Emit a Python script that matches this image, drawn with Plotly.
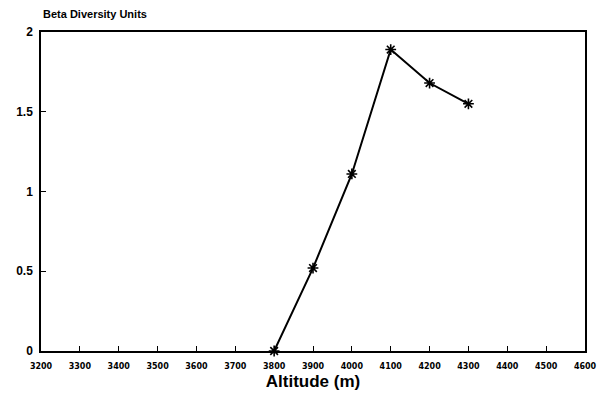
import plotly.graph_objects as go

altitude = [3800, 3900, 4000, 4100, 4200, 4300]
beta_diversity = [0.0, 0.52, 1.11, 1.89, 1.68, 1.55]
x_ticks = list(range(3200, 4601, 100))
y_ticks = [0, 0.5, 1, 1.5, 2]
y_tick_labels = ["0", "0.5", "1", "1.5", "2"]

fig = go.Figure()
fig.add_trace(go.Scatter(
    x=altitude, y=beta_diversity, mode="lines+markers",
    line=dict(color="black", width=2),
    marker=dict(symbol="asterisk-open", size=9, color="black",
                line=dict(color="black", width=1.6)),
    showlegend=False, cliponaxis=False,
))

fig.update_layout(
    width=606, height=400,
    margin=dict(l=41, r=21, t=32, b=49),
    paper_bgcolor="white", plot_bgcolor="white",
    font=dict(family="Liberation Sans, Arial, sans-serif", color="black"),
    xaxis=dict(
        range=[3200, 4600], tickvals=x_ticks, ticktext=[str(v) for v in x_ticks],
        ticks="inside", ticklen=5, tickwidth=1.2, tickcolor="black",
        showline=True, linecolor="black", linewidth=1.5, mirror=True,
        showgrid=False, zeroline=False, automargin=False,
        ticklabelstandoff=7,
        tickfont=dict(family="DejaVu Sans, sans-serif", size=8, weight="bold"),
        title=dict(text="Altitude (m)", font=dict(size=17, weight="bold"), standoff=5),
    ),
    yaxis=dict(
        range=[0, 2], tickvals=y_ticks, ticktext=y_tick_labels,
        ticks="inside", ticklen=5, tickwidth=1.2, tickcolor="black",
        showline=True, linecolor="black", linewidth=1.5, mirror=True,
        showgrid=False, zeroline=False, automargin=False,
        ticklabelstandoff=4,
        tickfont=dict(size=12, weight="bold"),
    ),
    annotations=[dict(
        text="Beta Diversity Units", xref="paper", yref="paper",
        x=0, y=1, xanchor="left", yanchor="bottom", yshift=10, showarrow=False,
        font=dict(size=11, weight="bold"),
    )],
)

fig.write_html("out.html")
